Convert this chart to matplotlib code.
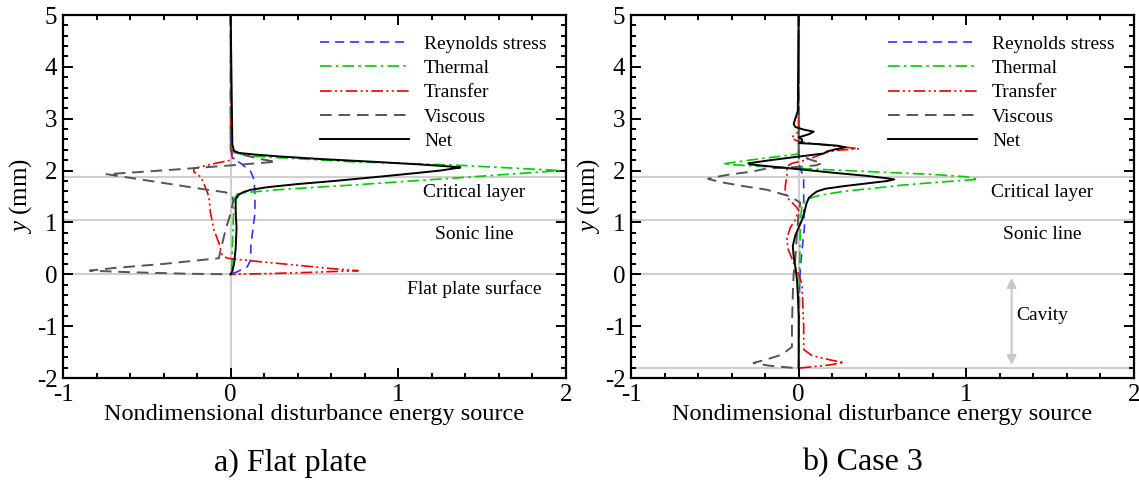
import numpy as np
import matplotlib
matplotlib.use("Agg")
import matplotlib.pyplot as plt
from matplotlib.ticker import MultipleLocator

plt.rcParams['font.family'] = ['Liberation Serif', 'DejaVu Serif']
plt.rcParams['mathtext.fontset'] = 'custom'
plt.rcParams['mathtext.rm'] = 'Liberation Serif'
plt.rcParams['mathtext.it'] = 'Liberation Serif:italic'
plt.rcParams['axes.unicode_minus'] = False

# profiles given as (y [mm], energy source) pairs
# a) flat plate
rey_a = [(5.0, 0.0), (2.45, 0.0), (2.24, 0.01), (2.14, 0.06), (1.98, 0.12), (1.82, 0.14),
         (1.50, 0.145), (1.18, 0.145), (0.80, 0.13), (0.53, 0.12), (0.28, 0.12),
         (0.15, 0.10), (0.05, 0.04), (0.0, 0.0)]
thermal_a = [(5.0, 0.0), (2.45, 0.005), (2.34, 0.03), (2.28, 0.12), (2.17, 0.72),
             (2.11, 1.31), (2.0, 1.97), (1.85, 1.31), (1.72, 0.72), (1.64, 0.32),
             (1.58, 0.10), (1.55, 0.04), (1.45, 0.02), (1.0, 0.015), (0.5, 0.01),
             (0.2, 0.008), (0.05, 0.005), (0.0, 0.0)]
transfer_a = [(5.0, 0.0), (2.40, 0.0), (2.24, 0.02), (2.20, 0.0), (2.14, -0.09),
              (2.08, -0.17), (2.04, -0.22), (1.98, -0.22), (1.88, -0.18), (1.75, -0.16),
              (1.50, -0.13), (1.18, -0.12), (0.86, -0.10), (0.60, -0.07), (0.37, -0.05),
              (0.31, -0.02), (0.26, 0.12), (0.18, 0.38), (0.11, 0.60), (0.07, 0.76),
              (0.04, 0.50), (0.015, 0.25), (0.0, 0.0)]
viscous_a = [(5.0, 0.0), (2.42, 0.0), (2.36, 0.02), (2.30, 0.08), (2.22, 0.18),
             (2.17, 0.27), (2.10, 0.0), (2.02, -0.33), (1.96, -0.60), (1.93, -0.74),
             (1.85, -0.58), (1.75, -0.38), (1.65, -0.18), (1.58, -0.03), (1.52, 0.01),
             (1.40, 0.015), (1.18, 0.0), (0.86, -0.03), (0.47, -0.06), (0.31, -0.07),
             (0.20, -0.40), (0.12, -0.70), (0.07, -0.84), (0.04, -0.60), (0.01, -0.25),
             (0.0, 0.0)]
net_a = [(5.0, 0.0), (2.50, 0.01), (2.38, 0.02), (2.34, 0.05), (2.31, 0.14), (2.27, 0.30),
         (2.22, 0.55), (2.17, 0.85), (2.12, 1.12), (2.08, 1.30), (2.06, 1.37), (2.04, 1.33),
         (2.00, 1.25), (1.95, 1.10), (1.88, 0.88), (1.80, 0.62), (1.74, 0.40), (1.68, 0.22),
         (1.63, 0.12), (1.59, 0.08), (1.54, 0.05), (1.45, 0.03), (1.20, 0.03), (0.90, 0.035),
         (0.50, 0.03), (0.20, 0.02), (0.06, 0.01), (0.0, 0.0)]

# b) case 3
rey_b = [(5.0, 0.0), (2.20, 0.0), (2.08, 0.005), (1.95, 0.02), (1.82, 0.03), (1.60, 0.03),
         (1.20, 0.03), (0.92, 0.035), (0.47, 0.02), (0.10, 0.01), (-0.30, 0.005), (-1.81, 0.0)]
thermal_b = [(5.0, 0.0), (2.32, 0.0), (2.22, -0.25), (2.13, -0.45), (2.11, -0.38),
             (2.06, -0.10), (2.02, 0.15), (1.97, 0.49), (1.93, 0.78), (1.88, 1.0),
             (1.83, 1.07), (1.78, 0.85), (1.72, 0.62), (1.66, 0.45), (1.60, 0.27),
             (1.52, 0.12), (1.45, 0.05), (1.35, 0.02), (1.0, 0.01), (0.0, 0.005), (-1.81, 0.0)]
transfer_b = [(5.0, 0.0), (2.75, 0.0), (2.68, -0.03), (2.62, -0.04), (2.56, 0.0),
              (2.51, 0.10), (2.46, 0.26), (2.42, 0.36), (2.39, 0.22), (2.34, 0.16),
              (2.27, 0.10), (2.20, 0.04), (2.14, -0.04), (2.08, -0.07), (1.90, -0.07),
              (1.70, -0.08), (1.56, -0.08), (1.45, -0.06), (1.32, -0.02), (1.24, 0.0),
              (1.05, -0.02), (0.90, -0.05), (0.70, -0.07), (0.50, -0.065), (0.30, -0.04),
              (0.12, -0.02), (0.0, 0.0), (-0.20, 0.02), (-0.60, 0.025), (-1.00, 0.03),
              (-1.45, 0.03), (-1.57, 0.08), (-1.66, 0.20), (-1.70, 0.27), (-1.75, 0.18),
              (-1.79, 0.06), (-1.81, 0.0)]
viscous_b = [(5.0, 0.0), (2.30, 0.0), (2.20, 0.08), (2.14, 0.14), (2.10, 0.10), (2.07, 0.0),
             (2.04, -0.19), (1.98, -0.28), (1.92, -0.42), (1.86, -0.52), (1.84, -0.54),
             (1.78, -0.47), (1.70, -0.33), (1.63, -0.19), (1.52, -0.07), (1.46, -0.03),
             (1.38, 0.01), (1.20, 0.0), (0.80, -0.01), (0.30, -0.02), (0.0, -0.03),
             (-0.40, -0.035), (-1.00, -0.04), (-1.40, -0.04), (-1.55, -0.10), (-1.65, -0.20),
             (-1.71, -0.27), (-1.76, -0.18), (-1.80, -0.05), (-1.81, 0.0)]
net_b = [(5.0, 0.0), (3.15, -0.005), (3.00, -0.02), (2.90, -0.03), (2.84, -0.02), (2.79, 0.03),
         (2.75, 0.09), (2.70, 0.06), (2.64, 0.0), (2.60, 0.02), (2.56, 0.02), (2.53, 0.0),
         (2.51, 0.12), (2.48, 0.23), (2.45, 0.28), (2.41, 0.22), (2.37, 0.17), (2.33, 0.15),
         (2.27, 0.0), (2.20, -0.17), (2.14, -0.30), (2.12, -0.29), (2.08, -0.17), (2.02, 0.02),
         (1.96, 0.20), (1.90, 0.40), (1.85, 0.53), (1.83, 0.57), (1.80, 0.53), (1.75, 0.40),
         (1.70, 0.27), (1.65, 0.16), (1.60, 0.11), (1.53, 0.08), (1.47, 0.06), (1.35, 0.045),
         (1.20, 0.035), (1.05, 0.02), (0.90, 0.0), (0.75, -0.02), (0.55, -0.035), (0.35, -0.03),
         (0.15, -0.02), (-0.10, -0.01), (-0.40, -0.005), (-0.80, 0.0), (-1.20, 0.0),
         (-1.60, 0.0), (-1.81, 0.0)]

labels = ['Reynolds stress', 'Thermal', 'Transfer', 'Viscous', 'Net']
colors = ['#3333ff', '#00cc00', '#ee0000', '#555555', 'black']
styles = [(0, (5.5, 3.5)), (0, (7, 2.5, 1.5, 2.5)), (0, (7, 2, 1.2, 2, 1.2, 2)),
          (0, (6, 3.5)), '-']
widths = [1.2, 1.2, 1.2, 1.4, 1.4]

# reference levels: critical layer, sonic line, wall
levels_a = [1.87, 1.04, 0.0]
levels_b = [1.87, 1.04, 0.0, -1.81]
notes_a = [('Critical layer', 1.57), ('Sonic line', 0.76), ('Flat plate surface', -0.28)]
notes_b = [('Critical layer', 1.57), ('Sonic line', 0.76), ('Cavity', -0.79)]
cavity = (-0.07, -1.75)
captions = ['a) Flat plate', 'b) Case 3']

fig = plt.figure(figsize=(11.39, 4.86), dpi=100)
ax_a = fig.add_axes([63/1139, 108/486, 503/1139, 363/486])
ax_b = fig.add_axes([631/1139, 108/486, 503/1139, 363/486])

grid_c = '#cfcfcf'

def panel(ax, series, levels, notes):
    for lv in levels:
        ax.axhline(lv, color=grid_c, lw=1.5, zorder=1)
    ax.axvline(0, color=grid_c, lw=1.5, zorder=1)
    for s, lab, c, ls, lw in zip(series, labels, colors, styles, widths):
        y, x = zip(*s)
        ax.plot(x, y, color=c, ls=ls, lw=lw, label=lab, zorder=3)
    for txt, yy in notes:
        ax.text(1.45, yy, txt, ha='center', va='center', fontsize=14)
    ax.set_xlim(-1, 2)
    ax.set_ylim(-2, 5)
    ax.xaxis.set_major_locator(MultipleLocator(1))
    ax.xaxis.set_minor_locator(MultipleLocator(0.2))
    ax.yaxis.set_major_locator(MultipleLocator(1))
    ax.yaxis.set_minor_locator(MultipleLocator(0.2))
    ax.tick_params(which='both', direction='in', top=True, right=True,
                   labelsize=18, width=1.4, pad=4)
    ax.tick_params(which='major', length=7)
    ax.tick_params(which='minor', length=3.5)
    for sp in ax.spines.values():
        sp.set_linewidth(1.6)
    ax.set_xlabel('Nondimensional disturbance energy source', fontsize=17.5, labelpad=-1)
    ax.set_ylabel('$y$ (mm)', fontsize=18, labelpad=2)
    ax.legend(loc='upper left', bbox_to_anchor=(0.511, 0.944), frameon=False,
              fontsize=14, handlelength=4.6, handletextpad=0.75, labelspacing=0.34,
              borderpad=0, borderaxespad=0)

panel(ax_a, [rey_a, thermal_a, transfer_a, viscous_a, net_a], levels_a, notes_a)
panel(ax_b, [rey_b, thermal_b, transfer_b, viscous_b, net_b], levels_b, notes_b)

ax_b.annotate('', xy=(1.27, cavity[1]), xytext=(1.27, cavity[0]),
              arrowprops=dict(arrowstyle='<|-|>', color='#c8c8c8', lw=1.5,
                              mutation_scale=14, shrinkA=0, shrinkB=0), zorder=2)

fig.text(290/1139, 1 - 463/486, captions[0], ha='center', va='center', fontsize=23)
fig.text(862/1139, 1 - 463/486, captions[1], ha='center', va='center', fontsize=23)

fig.savefig('out.png', dpi=100)
